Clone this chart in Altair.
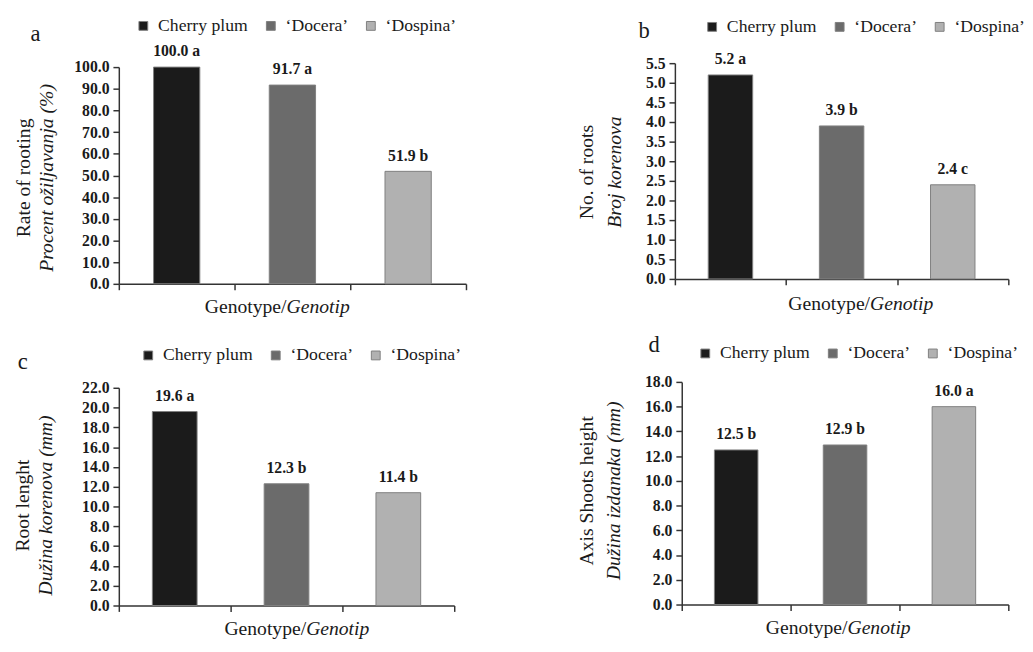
import altair as alt
import pandas as pd

SERIF = "Liberation Serif"
INK = "#1a1a1a"

genotypes = ["Cherry plum", "\u2018Docera\u2019", "\u2018Dospina\u2019"]
colors = ["#1b1b1b", "#6b6b6b", "#b1b1b1"]

rooting_rate = [100.0, 91.7, 51.9]
rooting_letters = ["a", "a", "b"]
root_number = [5.2, 3.9, 2.4]
root_number_letters = ["a", "b", "c"]
root_length = [19.6, 12.3, 11.4]
root_length_letters = ["a", "b", "b"]
shoot_height = [12.5, 12.9, 16.0]
shoot_height_letters = ["b", "b", "a"]

ticks_a = [0, 10, 20, 30, 40, 50, 60, 70, 80, 90, 100]
ticks_b = [0, 0.5, 1.0, 1.5, 2.0, 2.5, 3.0, 3.5, 4.0, 4.5, 5.0, 5.5]
ticks_c = [0, 2, 4, 6, 8, 10, 12, 14, 16, 18, 20, 22]
ticks_d = [0, 2, 4, 6, 8, 10, 12, 14, 16, 18]


def note(text, x, y, size, style="normal", weight="normal", angle=0,
         align="center", baseline="alphabetic"):
    return alt.Chart(alt.Data(values=[{"t": text}])).mark_text(
        font=SERIF, fontSize=size, fontStyle=style, fontWeight=weight,
        angle=angle, align=align, baseline=baseline, color=INK
    ).encode(x=alt.value(x), y=alt.value(y), text="t:N")


def panel(values, letters, ticks, ymax, letter, letter_xy, title1, title2,
          ytitle_x, ytitle_y, xtitle_split, xtitle_y, width, height, yrange,
          legend_xy, xrange=None, yoffset=0):
    df = pd.DataFrame({"genotype": genotypes, "value": values, "letter": letters})
    df["label"] = [f"{v:.1f} {l}" for v, l in zip(values, letters)]

    xs = dict(domain=genotypes, paddingInner=0, paddingOuter=0)
    if xrange is not None:
        xs["range"] = xrange
    x = alt.X("genotype:N", sort=genotypes, scale=alt.Scale(**xs),
              axis=alt.Axis(title=None, labels=False, tickBand="extent",
                            tickSize=6, tickWidth=1.5, tickColor="#333333",
                            domainColor="#333333", domainWidth=1.5, grid=False))
    yaxis = dict(title=None, values=ticks, format=".1f", grid=False,
                 labelFont=SERIF, labelFontSize=16, labelFontWeight="bold",
                 labelColor=INK, labelPadding=4, tickSize=6, tickWidth=1.5,
                 tickColor="#333333", domainColor="#333333", domainWidth=1.5,
                 labelFlush=False, labelOverlap=False)
    if yoffset:
        yaxis["offset"] = yoffset
    y = alt.Y("value:Q",
              scale=alt.Scale(domain=[0, ymax], range=yrange, nice=False, zero=True),
              axis=alt.Axis(**yaxis))
    color = alt.Color(
        "genotype:N", sort=genotypes,
        scale=alt.Scale(domain=genotypes, range=colors),
        legend=alt.Legend(title=None, orient="none", legendX=legend_xy[0],
                          legendY=legend_xy[1], direction="horizontal",
                          padding=0, symbolType="square", symbolSize=81,
                          symbolStrokeColor="#7f7f7f", symbolStrokeWidth=1,
                          labelFont=SERIF, labelFontSize=18, labelColor=INK,
                          labelOffset=6, columnPadding=14, labelLimit=300))
    bars = alt.Chart(df).mark_bar(
        stroke="#7f7f7f", strokeWidth=1, width=alt.RelativeBandSize(0.4)
    ).encode(x=x, y=y, color=color)
    labels = alt.Chart(df).mark_text(
        dy=-11, baseline="alphabetic", font=SERIF, fontSize=16,
        fontWeight="bold", color=INK
    ).encode(x=x, y=y, text="label:N")

    notes = [
        note(letter, letter_xy[0], letter_xy[1], 23, align="left"),
        note(title1, ytitle_x[0], ytitle_y, 20, angle=270, baseline="middle"),
        note(title2, ytitle_x[1], ytitle_y, 20, style="italic", angle=270,
             baseline="middle"),
        note("Genotype/", xtitle_split, xtitle_y, 20, align="right"),
        note("Genotip", xtitle_split, xtitle_y, 20, style="italic", align="left"),
    ]
    return alt.layer(bars, labels, *notes).properties(width=width, height=height)


pa = panel(rooting_rate, rooting_letters, ticks_a, 100, "a", (-90, -23),
           "Rate of rooting", "Procent o\u017eiljavanja (%)", (-97, -73), 117,
           171, 255, 354, 225, [225, 4], (16, -47))
pb = panel(root_number, root_number_letters, ticks_b, 5.5, "b", (-37, -26),
           "No. of roots", "Broj korenova", (-90, -61), 111,
           199, 252, 340, 220, [220, 0], (29, -46))
pc = panel(root_length, root_length_letters, ticks_c, 22, "c", (-103, -13),
           "Root lenght", "Du\u017eina korenova (mm)", (-98, -74), 126,
           191, 258, 342, 228, [228, 6], (21, -36))
pd_ = panel(shoot_height, shoot_height_letters, ticks_d, 18, "d", (-27, -30),
            "Axis Shoots height", "Du\u017eina izdanaka (mm)", (-90, -62), 111,
            176, 257, 340, 227, [227, 0], (22, -38), xrange=[7, 340], yoffset=-7)

chart = alt.concat(
    pa, pb, pc, pd_, columns=2, spacing={"row": 100, "column": 213},
    bounds="flush"
).resolve_scale(
    x="independent", y="independent", color="independent"
).configure_view(stroke=None).properties(
    padding={"left": 5, "top": 3, "right": 0, "bottom": 0}
)

chart.save("out.html", embed_options={"renderer": "svg", "actions": False})
